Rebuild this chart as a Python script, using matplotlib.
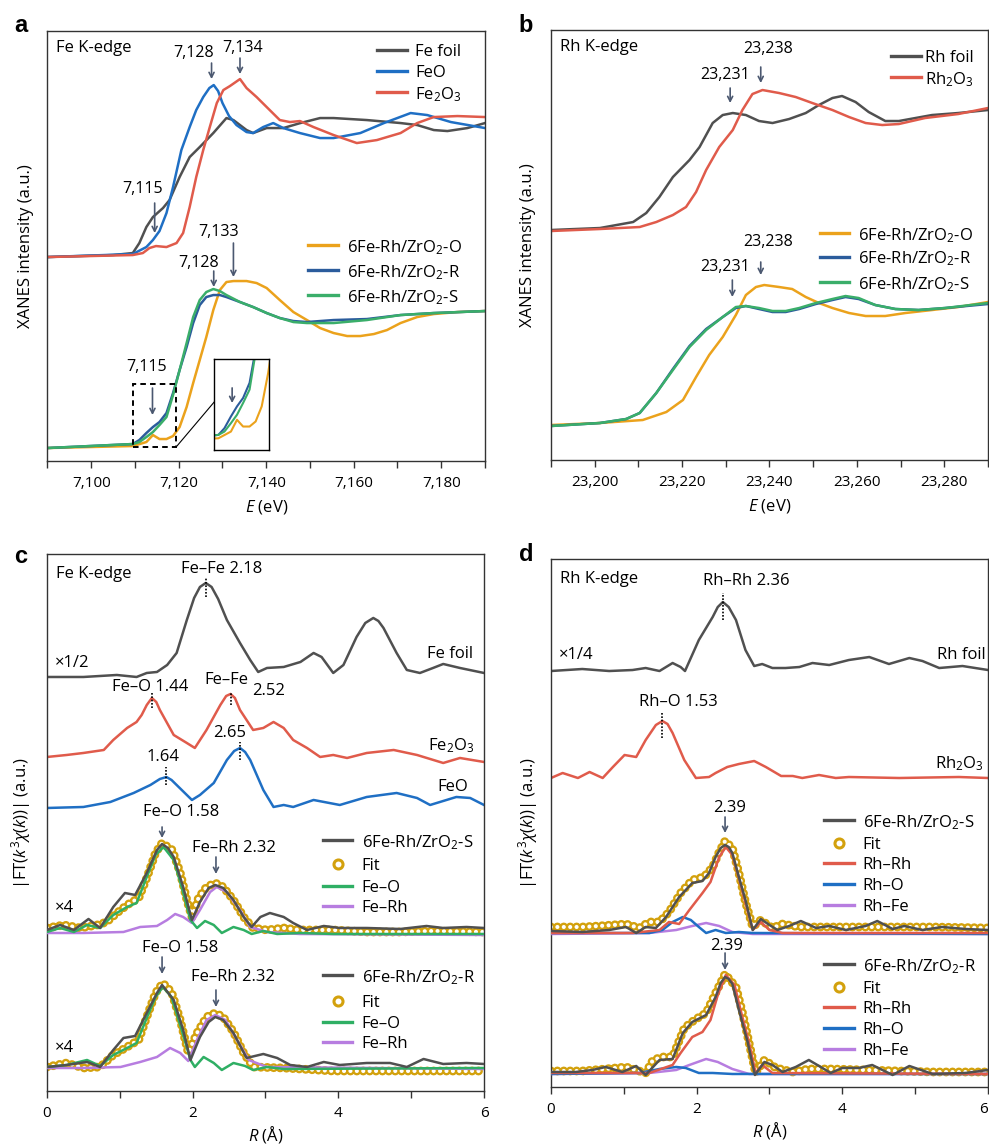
import matplotlib
matplotlib.use('Agg')
import matplotlib.pyplot as plt
from matplotlib.ticker import MultipleLocator, FuncFormatter
from matplotlib.patches import Rectangle

plt.rcParams['font.family'] = ['Open Sans', 'DejaVu Sans']
plt.rcParams['mathtext.fontset'] = 'custom'
plt.rcParams['mathtext.rm'] = 'Open Sans'
plt.rcParams['mathtext.it'] = 'Open Sans:italic'
plt.rcParams['mathtext.bf'] = 'Open Sans:bold'
plt.rcParams['lines.scale_dashes'] = False
plt.rcParams['axes.edgecolor'] = '#333333'

GRAY = '#505050'
BLUE = '#1f6fc4'
RED = '#e05b4b'
ORANGE = '#eba21c'
DBLUE = '#2b5c9c'
GREEN = '#3aae6a'
GOLD = '#d3a10d'
FEO_GREEN = '#2faf64'
PURPLE = '#b77de0'
ARROW = '#4b5870'

# ---------------- panel a: Fe K-edge XANES ----------------
fefoil_E = [7090, 7105, 7109.5, 7111.0, 7112.6, 7114.1, 7116.4, 7117.9, 7120.2, 7122.5, 7124.8, 7127.9, 7130.9,
            7132.5, 7135.5, 7137.0, 7140.1, 7143.9, 7147.8, 7152.3, 7155.4, 7163.0, 7170.7, 7174.5, 7178.3, 7181.4,
            7186.0, 7190]
fefoil_I = [2.04, 2.06, 2.08, 2.18, 2.34, 2.44, 2.53, 2.61, 2.84, 3.04, 3.14, 3.28, 3.43, 3.41, 3.31, 3.28, 3.33,
            3.33, 3.38, 3.43, 3.43, 3.41, 3.38, 3.36, 3.31, 3.30, 3.33, 3.38]
feo_E = [7090, 7109.5, 7112.6, 7114.1, 7115.6, 7117.2, 7118.7, 7120.6, 7122.5, 7124.0, 7125.6, 7127.0, 7128.0,
         7129.0, 7130.0, 7131.5, 7133.2, 7135.5, 7137.0, 7139.3, 7141.6, 7143.9, 7147.7, 7152.3, 7155.4, 7161.5,
         7166.9, 7173.0, 7176.8, 7182.2, 7190]
feo_I = [2.04, 2.07, 2.14, 2.21, 2.30, 2.48, 2.74, 3.11, 3.34, 3.51, 3.64, 3.73, 3.76, 3.70, 3.58, 3.45, 3.36,
         3.29, 3.28, 3.34, 3.38, 3.33, 3.28, 3.23, 3.23, 3.28, 3.38, 3.48, 3.46, 3.39, 3.33]
fe2o3_E = [7090, 7109.5, 7111.8, 7113.3, 7114.8, 7117.2, 7119.5, 7121.0, 7122.5, 7124.0, 7125.6, 7127.1, 7128.7,
           7130.2, 7131.7, 7134.0, 7135.5, 7137.8, 7140.1, 7143.1, 7145.4, 7147.7, 7150.8, 7155.4, 7160.7, 7165.3,
           7170.7, 7174.5, 7178.3, 7183.7, 7190]
fe2o3_I = [2.04, 2.06, 2.08, 2.13, 2.15, 2.14, 2.18, 2.28, 2.54, 2.84, 3.11, 3.34, 3.58, 3.71, 3.75, 3.82, 3.73,
           3.64, 3.54, 3.41, 3.39, 3.40, 3.34, 3.26, 3.18, 3.21, 3.28, 3.38, 3.44, 3.45, 3.44]
cat_O_E = [7090, 7109.5, 7112.6, 7114.1, 7115.6, 7117.2, 7118.7, 7120.2, 7121.8, 7123.3, 7124.8, 7126.3, 7127.9,
           7129.4, 7130.9, 7132.5, 7135.5, 7137.8, 7140.1, 7143.1, 7146.2, 7149.3, 7152.3, 7155.4, 7158.5, 7161.5,
           7164.6, 7167.6, 7170.7, 7174.5, 7178.3, 7183.7, 7190]
cat_O_I = [0.13, 0.15, 0.19, 0.26, 0.22, 0.22, 0.25, 0.34, 0.54, 0.78, 1.01, 1.24, 1.51, 1.71, 1.79, 1.80, 1.80,
           1.78, 1.73, 1.61, 1.49, 1.41, 1.33, 1.28, 1.25, 1.25, 1.27, 1.31, 1.38, 1.44, 1.47, 1.49, 1.50]
cat_E = [7090, 7109.5, 7111.0, 7112.6, 7114.1, 7115.6, 7117.2, 7118.7, 7120.2, 7121.8, 7123.3, 7124.8, 7126.3,
         7127.9, 7129.4, 7130.9, 7134.0, 7137.0, 7140.1, 7143.1, 7146.2, 7149.3, 7152.3, 7155.4, 7163.0, 7170.7,
         7178.3, 7190]
cat_R_I = [0.13, 0.17, 0.21, 0.28, 0.34, 0.39, 0.48, 0.68, 0.91, 1.14, 1.38, 1.56, 1.64, 1.66, 1.66, 1.64, 1.59,
           1.54, 1.48, 1.43, 1.40, 1.39, 1.40, 1.41, 1.42, 1.46, 1.48, 1.50]
cat_S_I = [0.13, 0.17, 0.19, 0.24, 0.29, 0.36, 0.44, 0.66, 0.91, 1.18, 1.44, 1.61, 1.69, 1.72, 1.70, 1.66, 1.59,
           1.54, 1.48, 1.43, 1.39, 1.38, 1.38, 1.38, 1.41, 1.46, 1.48, 1.50]

# ---------------- panel b: Rh K-edge XANES ----------------
rhfoil_E = [23190, 23201.2, 23208.8, 23211.8, 23214.8, 23217.9, 23221.7, 23224.0, 23227.0, 23229.3, 23231.6,
            23234.6, 23237.6, 23240.7, 23244.5, 23248.3, 23251.3, 23254.4, 23256.6, 23259.7, 23262.7, 23266.5,
            23269.6, 23277.2, 23283.2, 23290]
rhfoil_I = [2.30, 2.32, 2.38, 2.47, 2.63, 2.83, 3.00, 3.13, 3.37, 3.45, 3.47, 3.45, 3.39, 3.37, 3.41, 3.47, 3.55,
            3.62, 3.64, 3.58, 3.48, 3.39, 3.39, 3.45, 3.47, 3.50]
rh2o3_E = [23190, 23201.2, 23210.3, 23214.1, 23217.9, 23220.9, 23223.2, 23225.5, 23228.5, 23231.6, 23233.8,
           23236.1, 23238.4, 23242.2, 23246.0, 23249.8, 23254.4, 23258.2, 23262.0, 23265.8, 23269.6, 23275.6,
           23283.2, 23290]
rh2o3_I = [2.29, 2.31, 2.33, 2.38, 2.45, 2.53, 2.68, 2.90, 3.13, 3.30, 3.50, 3.66, 3.70, 3.67, 3.63, 3.57, 3.50,
           3.43, 3.37, 3.35, 3.36, 3.42, 3.46, 3.52]
rhcat_O_E = [23190, 23201.2, 23211.0, 23216.4, 23220.2, 23223.2, 23226.2, 23229.3, 23232.3, 23234.6, 23236.9,
             23238.8, 23242.2, 23245.2, 23248.3, 23251.3, 23254.4, 23258.2, 23262.0, 23266.5, 23271.1, 23277.2,
             23283.2, 23290]
rhcat_O_I = [0.35, 0.37, 0.40, 0.48, 0.60, 0.83, 1.05, 1.23, 1.45, 1.65, 1.73, 1.75, 1.73, 1.71, 1.63, 1.57, 1.52,
             1.47, 1.44, 1.44, 1.47, 1.50, 1.53, 1.58]
rhcat_E = [23190, 23201.2, 23207.2, 23210.3, 23214.1, 23217.9, 23221.7, 23225.5, 23229.3, 23232.3, 23234.6,
           23237.6, 23240.7, 23243.7, 23246.8, 23250.6, 23254.4, 23257.4, 23260.4, 23264.2, 23268.8, 23274.1,
           23280.2, 23290]
rhcat_R_I = [0.34, 0.37, 0.41, 0.47, 0.67, 0.91, 1.14, 1.31, 1.43, 1.52, 1.54, 1.51, 1.48, 1.48, 1.51, 1.56, 1.60,
             1.63, 1.61, 1.55, 1.51, 1.50, 1.52, 1.56]
rhcat_S_I = [0.34, 0.37, 0.41, 0.47, 0.67, 0.90, 1.13, 1.30, 1.43, 1.53, 1.54, 1.52, 1.49, 1.49, 1.52, 1.57, 1.61,
             1.64, 1.62, 1.55, 1.51, 1.50, 1.52, 1.57]

# ---------------- panel c: Fe K-edge EXAFS ----------------
c_foil_R = [0, 0.50, 0.73, 0.96, 1.23, 1.37, 1.51, 1.65, 1.78, 1.92, 2.02, 2.10, 2.18, 2.26, 2.35, 2.47, 2.65, 2.79,
            2.90, 3.02, 3.25, 3.48, 3.66, 3.77, 3.93, 4.07, 4.25, 4.37, 4.48, 4.55, 4.62, 4.80, 4.94, 5.12, 5.30,
            5.44, 5.67, 6.0]
c_foil_I = [4.14, 4.14, 4.15, 4.16, 4.14, 4.18, 4.19, 4.26, 4.38, 4.71, 4.93, 5.04, 5.08, 5.04, 4.92, 4.71, 4.48,
            4.31, 4.19, 4.23, 4.24, 4.29, 4.38, 4.34, 4.18, 4.26, 4.54, 4.68, 4.73, 4.70, 4.63, 4.38, 4.21, 4.18,
            4.23, 4.27, 4.23, 4.18]
c_fe2o3_R = [0, 0.27, 0.50, 0.78, 0.91, 1.10, 1.23, 1.30, 1.37, 1.44, 1.50, 1.55, 1.74, 1.92, 2.03, 2.19, 2.38,
             2.46, 2.52, 2.58, 2.65, 2.83, 2.97, 3.11, 3.25, 3.38, 3.57, 3.75, 3.93, 4.12, 4.39, 4.76, 5.08, 5.44,
             5.67, 6.0]
c_fe2o3_I = [3.34, 3.36, 3.38, 3.41, 3.51, 3.63, 3.69, 3.76, 3.86, 3.93, 3.89, 3.81, 3.56, 3.48, 3.43, 3.61, 3.86,
             3.95, 3.97, 3.93, 3.81, 3.61, 3.63, 3.69, 3.63, 3.51, 3.43, 3.34, 3.36, 3.33, 3.38, 3.41, 3.36, 3.28,
             3.33, 3.29]
c_feo_R = [0, 0.50, 0.87, 1.19, 1.42, 1.55, 1.64, 1.71, 1.78, 1.99, 2.10, 2.29, 2.47, 2.57, 2.65, 2.72, 2.79, 2.97,
           3.11, 3.25, 3.38, 3.66, 4.02, 4.39, 4.80, 5.08, 5.26, 5.62, 5.81, 6.0]
c_feo_I = [2.83, 2.84, 2.89, 2.98, 3.06, 3.12, 3.14, 3.11, 3.06, 2.91, 2.96, 3.08, 3.31, 3.40, 3.43, 3.39, 3.31,
           3.01, 2.84, 2.86, 2.84, 2.91, 2.86, 2.94, 2.98, 2.93, 2.86, 2.94, 2.93, 2.86]
c_S_R = [0, 0.18, 0.37, 0.57, 0.73, 0.91, 1.07, 1.21, 1.37, 1.51, 1.58, 1.66, 1.74, 1.87, 1.99, 2.10, 2.22, 2.31,
         2.42, 2.56, 2.70, 2.81, 2.93, 3.06, 3.25, 3.38, 3.57, 3.80, 4.02, 4.39, 4.85, 5.21, 5.44, 5.76, 6.0]
c_S_I = [1.61, 1.66, 1.61, 1.72, 1.63, 1.84, 1.98, 1.96, 2.18, 2.41, 2.47, 2.43, 2.34, 2.04, 1.71, 1.89, 2.03, 2.06,
         2.03, 1.91, 1.74, 1.64, 1.74, 1.78, 1.74, 1.68, 1.61, 1.65, 1.63, 1.63, 1.62, 1.65, 1.63, 1.64, 1.63]
c_S_fit_R = [0, 0.23, 0.46, 0.69, 0.82, 0.96, 1.10, 1.26, 1.37, 1.49, 1.58, 1.72, 1.83, 1.92, 1.99, 2.08, 2.19, 2.31,
             2.42, 2.56, 2.70, 2.83, 3.02, 3.25, 3.47, 3.93, 4.39, 4.85, 5.30, 6.0]
c_S_fit_I = [1.63, 1.66, 1.63, 1.66, 1.69, 1.78, 1.86, 1.93, 2.13, 2.38, 2.48, 2.41, 2.18, 1.91, 1.74, 1.93, 2.04,
             2.08, 2.04, 1.91, 1.74, 1.63, 1.61, 1.63, 1.61, 1.61, 1.59, 1.59, 1.60, 1.59]
c_S_feo_R = [0, 0.18, 0.37, 0.55, 0.73, 0.91, 1.10, 1.23, 1.37, 1.49, 1.60, 1.74, 1.85, 1.97, 2.06, 2.17, 2.29, 2.40,
             2.56, 2.70, 2.81, 2.97, 3.16, 3.47, 3.93, 6.0]
c_S_feo_I = [1.59, 1.63, 1.59, 1.66, 1.63, 1.76, 1.84, 1.88, 2.14, 2.36, 2.44, 2.31, 2.04, 1.71, 1.63, 1.70, 1.66,
             1.58, 1.64, 1.61, 1.57, 1.60, 1.57, 1.58, 1.57, 1.57]
c_S_ferh_R = [0, 0.50, 1.05, 1.28, 1.51, 1.65, 1.76, 1.87, 1.99, 2.10, 2.24, 2.33, 2.47, 2.65, 2.79, 3.02, 3.47, 6.0]
c_S_ferh_I = [1.58, 1.58, 1.59, 1.64, 1.65, 1.71, 1.77, 1.74, 1.68, 1.81, 1.99, 2.04, 1.99, 1.81, 1.64, 1.59, 1.57,
              1.56]
c_R_R = [0, 0.27, 0.55, 0.73, 0.91, 1.05, 1.21, 1.37, 1.51, 1.58, 1.74, 1.87, 1.97, 2.10, 2.22, 2.31, 2.42, 2.56,
         2.74, 2.97, 3.16, 3.34, 3.57, 3.80, 4.02, 4.39, 4.71, 4.94, 5.17, 5.44, 5.76, 6.0]
c_R_I = [0.24, 0.26, 0.29, 0.24, 0.41, 0.53, 0.55, 0.78, 0.98, 1.06, 0.91, 0.61, 0.31, 0.54, 0.69, 0.74, 0.71, 0.58,
         0.33, 0.37, 0.33, 0.26, 0.24, 0.29, 0.26, 0.28, 0.28, 0.24, 0.32, 0.27, 0.28, 0.27]
c_R_fit_R = [0, 0.27, 0.50, 0.73, 0.91, 1.10, 1.26, 1.37, 1.49, 1.59, 1.71, 1.83, 1.94, 2.06, 2.19, 2.31, 2.42, 2.56,
             2.70, 2.83, 3.25, 3.93, 6.0]
c_R_fit_I = [0.24, 0.28, 0.23, 0.24, 0.36, 0.44, 0.51, 0.74, 0.98, 1.08, 0.99, 0.71, 0.38, 0.58, 0.74, 0.78, 0.74,
             0.59, 0.38, 0.24, 0.23, 0.20, 0.20]
c_R_feo_R = [0, 0.27, 0.55, 0.73, 0.91, 1.10, 1.23, 1.37, 1.49, 1.59, 1.71, 1.85, 1.97, 2.03, 2.15, 2.29, 2.40, 2.56,
             2.72, 2.83, 3.02, 3.25, 6.0]
c_R_feo_I = [0.24, 0.26, 0.31, 0.25, 0.36, 0.43, 0.48, 0.73, 0.94, 1.04, 0.94, 0.61, 0.31, 0.24, 0.34, 0.28, 0.21,
             0.28, 0.25, 0.21, 0.24, 0.22, 0.23]
c_R_ferh_R = [0, 0.50, 1.01, 1.28, 1.51, 1.69, 1.83, 1.94, 2.06, 2.19, 2.31, 2.45, 2.61, 2.77, 3.02, 6.0]
c_R_ferh_I = [0.23, 0.23, 0.24, 0.29, 0.34, 0.43, 0.38, 0.30, 0.51, 0.71, 0.76, 0.71, 0.51, 0.31, 0.24, 0.22]

# ---------------- panel d: Rh K-edge EXAFS ----------------
d_foil_R = [0, 0.43, 0.80, 1.12, 1.30, 1.49, 1.67, 1.78, 1.84, 2.03, 2.22, 2.29, 2.36, 2.44, 2.54, 2.67, 2.79, 2.90,
            3.04, 3.22, 3.41, 3.59, 3.82, 4.09, 4.37, 4.64, 4.92, 5.10, 5.33, 5.65, 6.0]
d_foil_I = [4.16, 4.18, 4.16, 4.17, 4.19, 4.16, 4.24, 4.20, 4.16, 4.47, 4.70, 4.80, 4.85, 4.80, 4.67, 4.37, 4.21,
            4.23, 4.19, 4.19, 4.20, 4.24, 4.22, 4.27, 4.30, 4.23, 4.29, 4.26, 4.19, 4.21, 4.17]
d_rh2o3_R = [0, 0.16, 0.37, 0.53, 0.71, 0.85, 1.01, 1.17, 1.30, 1.44, 1.53, 1.60, 1.67, 1.83, 1.99, 2.17, 2.26, 2.42,
             2.58, 2.79, 2.95, 3.16, 3.32, 3.45, 3.68, 3.91, 4.09, 4.78, 5.60, 6.0]
d_rh2o3_I = [3.09, 3.14, 3.09, 3.15, 3.09, 3.20, 3.32, 3.30, 3.47, 3.62, 3.66, 3.63, 3.54, 3.27, 3.09, 3.10, 3.14,
             3.20, 3.23, 3.26, 3.20, 3.11, 3.11, 3.09, 3.12, 3.09, 3.10, 3.09, 3.10, 3.09]
d_S_R = [0, 0.43, 0.80, 1.03, 1.17, 1.30, 1.44, 1.58, 1.76, 1.94, 2.08, 2.17, 2.26, 2.33, 2.39, 2.44, 2.49, 2.58,
         2.67, 2.77, 2.88, 3.00, 3.11, 3.27, 3.43, 3.64, 3.82, 4.05, 4.32, 4.48, 4.69, 4.85, 5.10, 5.37, 5.69, 6.0]
d_S_I = [1.56, 1.55, 1.57, 1.60, 1.54, 1.60, 1.59, 1.70, 1.90, 2.04, 2.06, 2.14, 2.30, 2.39, 2.42, 2.40, 2.34, 2.10,
         1.87, 1.57, 1.68, 1.62, 1.57, 1.61, 1.66, 1.59, 1.61, 1.57, 1.61, 1.66, 1.58, 1.61, 1.57, 1.60, 1.58, 1.57]
d_S_fit_R = [0, 0.43, 0.66, 1.03, 1.21, 1.35, 1.49, 1.62, 1.78, 1.94, 2.10, 2.22, 2.31, 2.39, 2.49, 2.58, 2.67, 2.77,
             2.88, 3.04, 3.18, 3.41, 3.86, 4.32, 5.24, 6.0]
d_S_fit_I = [1.60, 1.60, 1.61, 1.63, 1.59, 1.65, 1.65, 1.75, 1.94, 2.07, 2.10, 2.20, 2.35, 2.46, 2.39, 2.14, 1.85,
             1.60, 1.67, 1.59, 1.63, 1.60, 1.60, 1.60, 1.60, 1.59]
d_S_rhrh_R = [0, 1.12, 1.49, 1.62, 1.76, 1.90, 2.08, 2.19, 2.31, 2.40, 2.49, 2.58, 2.67, 2.77, 2.88, 3.00, 3.18, 6.0]
d_S_rhrh_I = [1.54, 1.54, 1.57, 1.65, 1.63, 1.77, 1.94, 2.05, 2.30, 2.40, 2.32, 2.09, 1.84, 1.57, 1.65, 1.57, 1.54,
              1.54]
d_S_rho_R = [0, 1.35, 1.53, 1.67, 1.81, 1.92, 2.03, 2.13, 2.26, 2.40, 2.58, 2.77, 6.0]
d_S_rho_I = [1.54, 1.54, 1.57, 1.65, 1.70, 1.67, 1.60, 1.54, 1.57, 1.54, 1.55, 1.54, 1.53]
d_S_rhfe_R = [0, 1.35, 1.72, 1.94, 2.13, 2.31, 2.49, 2.77, 6.0]
d_S_rhfe_I = [1.53, 1.54, 1.57, 1.61, 1.64, 1.61, 1.55, 1.53, 1.53]
d_R_R = [0, 0.34, 0.57, 0.75, 0.98, 1.17, 1.30, 1.49, 1.67, 1.81, 1.94, 2.13, 2.26, 2.33, 2.39, 2.44, 2.49, 2.58,
         2.70, 2.80, 2.93, 3.04, 3.18, 3.36, 3.54, 3.68, 3.84, 4.00, 4.23, 4.41, 4.69, 4.92, 5.24, 5.69, 6.0]
d_R_I = [0.15, 0.15, 0.17, 0.20, 0.15, 0.21, 0.12, 0.27, 0.28, 0.54, 0.65, 0.72, 0.90, 1.04, 1.10, 1.08, 1.03, 0.77,
         0.45, 0.12, 0.25, 0.22, 0.15, 0.20, 0.27, 0.21, 0.14, 0.19, 0.19, 0.22, 0.12, 0.21, 0.13, 0.14, 0.17]
d_R_fit_R = [0, 0.43, 0.75, 1.03, 1.30, 1.40, 1.53, 1.67, 1.83, 1.97, 2.13, 2.26, 2.39, 2.54, 2.63, 2.72, 2.81, 2.93,
             3.09, 3.32, 3.54, 3.86, 4.32, 5.24, 6.0]
d_R_fit_I = [0.16, 0.16, 0.18, 0.20, 0.14, 0.27, 0.30, 0.30, 0.59, 0.67, 0.74, 0.94, 1.13, 1.00, 0.74, 0.44, 0.14,
             0.27, 0.19, 0.15, 0.18, 0.18, 0.17, 0.15, 0.15]
d_R_rhrh_R = [0, 1.35, 1.67, 1.78, 1.94, 2.08, 2.19, 2.29, 2.40, 2.52, 2.61, 2.72, 2.81, 2.90, 3.04, 6.0]
d_R_rhrh_I = [0.14, 0.14, 0.22, 0.34, 0.50, 0.55, 0.67, 0.92, 1.12, 1.02, 0.75, 0.44, 0.14, 0.22, 0.14, 0.13]
d_R_rho_R = [0, 1.21, 1.49, 1.72, 1.85, 2.03, 2.22, 2.49, 6.0]
d_R_rho_I = [0.13, 0.14, 0.18, 0.20, 0.19, 0.14, 0.14, 0.13, 0.13]
d_R_rhfe_R = [0, 1.35, 1.72, 1.90, 2.13, 2.29, 2.49, 2.72, 6.0]
d_R_rhfe_I = [0.13, 0.14, 0.17, 0.22, 0.28, 0.25, 0.18, 0.13, 0.13]

LW = 1.8
FS = 12


def style_axis(ax, major, minor, xlim, ylim):
    ax.set_xlim(*xlim)
    ax.set_ylim(*ylim)
    ax.set_yticks([])
    ax.xaxis.set_major_locator(MultipleLocator(major))
    ax.xaxis.set_minor_locator(MultipleLocator(minor))
    ax.tick_params(axis='x', which='both', direction='out', length=5, width=1, color='#333333')
    ax.tick_params(axis='x', which='major', labelsize=11, pad=6)
    for s in ax.spines.values():
        s.set_linewidth(1.0)


def arrow(ax, x, y0, y1):
    ax.annotate('', xy=(x, y1), xytext=(x, y0),
                arrowprops=dict(arrowstyle='->,head_length=0.35,head_width=0.18', color=ARROW, lw=1.2,
                                shrinkA=0, shrinkB=0))


def mark(ax, x, y0, y1):
    ax.vlines(x, y0, y1, colors='k', linestyles=(0, (1.2, 1.2)), lw=1.2)


def fit(ax, x, y):
    # open-circle look: gold dots with a white core, same dash rhythm
    ax.plot(x, y, color=GOLD, lw=6.4, ls=(0, (0.01, 4.6)), dash_capstyle='round', zorder=2)
    ax.plot(x, y, color='white', lw=3.0, ls=(0, (0.01, 4.6)), dash_capstyle='round', zorder=2.1)


def key(ax, x0, x1, xt, rows):
    for y, label, color, kind in rows:
        if kind == 'o':
            ax.plot([(x0 + x1) / 2], [y], 'o', ms=6.5, mfc='white', mec=GOLD, mew=2.2,
                    transform=ax.transAxes, clip_on=False)
        else:
            ax.plot([x0, x1], [y, y], color=color, lw=2.4, transform=ax.transAxes, clip_on=False)
        ax.text(xt, y, label, transform=ax.transAxes, fontsize=FS, va='center_baseline', ha='left')


fig = plt.figure(figsize=(9.89, 11.46), dpi=100)
ax_a = fig.add_axes([0.0480, 0.5977, 0.4424, 0.3752])
ax_b = fig.add_axes([0.5571, 0.5986, 0.4419, 0.3752])
ax_c = fig.add_axes([0.0475, 0.0480, 0.4419, 0.4686])
ax_d = fig.add_axes([0.5571, 0.0515, 0.4419, 0.4607])

comma = FuncFormatter(lambda v, p: f'{v:,.0f}')

# ---- a ----
ax = ax_a
ax.plot(fefoil_E, fefoil_I, color=GRAY, lw=LW)
ax.plot(feo_E, feo_I, color=BLUE, lw=LW)
ax.plot(fe2o3_E, fe2o3_I, color=RED, lw=LW)
ax.plot(cat_O_E, cat_O_I, color=ORANGE, lw=LW)
ax.plot(cat_E, cat_R_I, color=DBLUE, lw=LW)
ax.plot(cat_E, cat_S_I, color=GREEN, lw=LW)
style_axis(ax, 20, 10, (7090, 7190), (0, 4.30))
ax.xaxis.set_major_formatter(comma)
ax.set_xlabel('$E$ (eV)', fontsize=FS, labelpad=5)
ax.set_ylabel('XANES intensity (a.u.)', fontsize=FS, labelpad=10)
ax.text(0.019, 0.96, 'Fe K-edge', transform=ax.transAxes, fontsize=FS, va='center')
ax.text(7123.5, 4.08, '7,128', fontsize=11.5, ha='center', va='center')
arrow(ax, 7127.5, 3.98, 3.82)
ax.text(7134.7, 4.13, '7,134', fontsize=11.5, ha='center', va='center')
arrow(ax, 7134, 4.03, 3.87)
ax.text(7111.8, 2.72, '7,115', fontsize=11.5, ha='center', va='center')
arrow(ax, 7114.5, 2.58, 2.28)
ax.text(7129.2, 2.29, '7,133', fontsize=11.5, ha='center', va='center')
arrow(ax, 7132.5, 2.18, 1.84)
ax.text(7124.6, 1.98, '7,128', fontsize=11.5, ha='center', va='center')
arrow(ax, 7128, 1.90, 1.74)
ax.text(7112.6, 0.94, '7,115', fontsize=11.5, ha='center', va='center')
arrow(ax, 7114, 0.73, 0.46)
ax.add_patch(Rectangle((7109.6, 0.14), 9.8, 0.63, fill=False, ls=(0, (4, 3)), lw=1.4, ec='k', zorder=5))
ax.plot([7119.4, 7128.1], [0.14, 0.59], color='k', lw=0.8, clip_on=False)
key(ax, 0.753, 0.822, 0.840, [(0.956, 'Fe foil', GRAY, '-'), (0.907, 'FeO', BLUE, '-'),
                              (0.858, 'Fe$_2$O$_3$', RED, '-')])
key(ax, 0.595, 0.664, 0.685, [(0.502, '6Fe-Rh/ZrO$_2$-O', ORANGE, '-'), (0.444, '6Fe-Rh/ZrO$_2$-R', DBLUE, '-'),
                              (0.386, '6Fe-Rh/ZrO$_2$-S', GREEN, '-')])

# inset of the pre-edge region
ins = fig.add_axes([0.2167, 0.6073, 0.0553, 0.0791])
ins.plot(cat_O_E, cat_O_I, color=ORANGE, lw=1.5)
ins.plot(cat_E, cat_R_I, color=DBLUE, lw=1.5)
ins.plot(cat_E, cat_S_I, color=GREEN, lw=1.5)
ins.set_xlim(7108.5, 7122)
ins.set_ylim(0.08, 0.62)
ins.set_xticks([])
ins.set_yticks([])
for s in ins.spines.values():
    s.set_linewidth(1.0)
    s.set_color('k')
arrow(ins, 7112.9, 0.45, 0.36)

# ---- b ----
ax = ax_b
ax.plot(rhfoil_E, rhfoil_I, color=GRAY, lw=LW)
ax.plot(rh2o3_E, rh2o3_I, color=RED, lw=LW)
ax.plot(rhcat_O_E, rhcat_O_I, color=ORANGE, lw=LW)
ax.plot(rhcat_E, rhcat_R_I, color=DBLUE, lw=LW)
ax.plot(rhcat_E, rhcat_S_I, color=GREEN, lw=LW)
style_axis(ax, 20, 10, (23190, 23290), (0, 4.30))
ax.xaxis.set_major_formatter(comma)
ax.set_xlabel('$E$ (eV)', fontsize=FS, labelpad=5)
ax.set_ylabel('XANES intensity (a.u.)', fontsize=FS, labelpad=11)
ax.text(0.021, 0.96, 'Rh K-edge', transform=ax.transAxes, fontsize=FS, va='center')
ax.text(23239.8, 4.11, '23,238', fontsize=11.5, ha='center', va='center')
arrow(ax, 23238, 3.93, 3.77)
ax.text(23229.9, 3.85, '23,231', fontsize=11.5, ha='center', va='center')
arrow(ax, 23231, 3.72, 3.57)
ax.text(23239.8, 2.18, '23,238', fontsize=11.5, ha='center', va='center')
arrow(ax, 23238, 1.98, 1.85)
ax.text(23229.9, 1.93, '23,231', fontsize=11.5, ha='center', va='center')
arrow(ax, 23231.5, 1.80, 1.63)
key(ax, 0.777, 0.846, 0.856, [(0.940, 'Rh foil', GRAY, '-'), (0.890, 'Rh$_2$O$_3$', RED, '-')])
key(ax, 0.616, 0.682, 0.702, [(0.527, '6Fe-Rh/ZrO$_2$-O', ORANGE, '-'), (0.473, '6Fe-Rh/ZrO$_2$-R', DBLUE, '-'),
                              (0.413, '6Fe-Rh/ZrO$_2$-S', GREEN, '-')])

# ---- c ----
ax = ax_c
ax.plot(c_foil_R, c_foil_I, color=GRAY, lw=LW)
ax.plot(c_fe2o3_R, c_fe2o3_I, color=RED, lw=LW)
ax.plot(c_feo_R, c_feo_I, color=BLUE, lw=LW)
fit(ax, c_S_fit_R, c_S_fit_I)
ax.plot(c_S_ferh_R, c_S_ferh_I, color=PURPLE, lw=LW, zorder=3)
ax.plot(c_S_feo_R, c_S_feo_I, color=FEO_GREEN, lw=LW, zorder=3)
ax.plot(c_S_R, c_S_I, color=GRAY, lw=LW, zorder=4)
fit(ax, c_R_fit_R, c_R_fit_I)
ax.plot(c_R_ferh_R, c_R_ferh_I, color=PURPLE, lw=LW, zorder=3)
ax.plot(c_R_feo_R, c_R_feo_I, color=FEO_GREEN, lw=LW, zorder=3)
ax.plot(c_R_R, c_R_I, color=GRAY, lw=LW, zorder=4)
style_axis(ax, 2, 1, (0, 6), (0, 5.37))
ax.set_xlabel('$R$ (Å)', fontsize=FS, labelpad=2)
ax.set_ylabel('|FT($k^3\\chi(k)$)| (a.u.)', fontsize=FS, labelpad=10)
ax.text(0.021, 0.963, 'Fe K-edge', transform=ax.transAxes, fontsize=FS, va='center')
ax.text(2.40, 5.22, 'Fe–Fe 2.18', fontsize=FS, ha='center', va='center')
mark(ax, 2.18, 4.94, 5.13)
ax.text(0.11, 4.28, '×1/2', fontsize=FS, ha='left', va='center')
ax.text(5.85, 4.37, 'Fe foil', fontsize=FS, ha='right', va='center')
ax.text(1.42, 4.04, 'Fe–O 1.44', fontsize=FS, ha='center', va='center')
mark(ax, 1.44, 3.83, 3.98)
ax.text(2.16, 4.11, 'Fe–Fe', fontsize=FS, ha='left', va='center')
ax.text(2.82, 4.00, '2.52', fontsize=FS, ha='left', va='center')
mark(ax, 2.52, 3.86, 3.98)
ax.text(5.86, 3.45, 'Fe$_2$O$_3$', fontsize=FS, ha='right', va='center')
ax.text(2.51, 3.58, '2.65', fontsize=FS, ha='center', va='center')
mark(ax, 2.65, 3.31, 3.49)
ax.text(1.59, 3.34, '1.64', fontsize=FS, ha='center', va='center')
mark(ax, 1.64, 3.06, 3.24)
ax.text(5.78, 3.04, 'FeO', fontsize=FS, ha='right', va='center')
ax.text(1.84, 2.79, 'Fe–O 1.58', fontsize=FS, ha='center', va='center')
arrow(ax, 1.58, 2.64, 2.53)
ax.text(2.56, 2.43, 'Fe–Rh 2.32', fontsize=FS, ha='center', va='center')
arrow(ax, 2.32, 2.34, 2.17)
ax.text(0.11, 1.83, '×4', fontsize=FS, ha='left', va='center')
ax.text(1.83, 1.43, 'Fe–O 1.58', fontsize=FS, ha='center', va='center')
arrow(ax, 1.58, 1.34, 1.17)
ax.text(2.55, 1.14, 'Fe–Rh 2.32', fontsize=FS, ha='center', va='center')
arrow(ax, 2.32, 1.01, 0.84)
ax.text(0.11, 0.43, '×4', fontsize=FS, ha='left', va='center')
key(ax, 0.632, 0.699, 0.720, [(0.467, '6Fe-Rh/ZrO$_2$-S', GRAY, '-'), (0.422, 'Fit', GOLD, 'o'),
                              (0.382, 'Fe–O', FEO_GREEN, '-'), (0.344, 'Fe–Rh', PURPLE, '-')])
key(ax, 0.632, 0.699, 0.720, [(0.216, '6Fe-Rh/ZrO$_2$-R', GRAY, '-'), (0.168, 'Fit', GOLD, 'o'),
                              (0.129, 'Fe–O', FEO_GREEN, '-'), (0.091, 'Fe–Rh', PURPLE, '-')])

# ---- d ----
ax = ax_d
ax.plot(d_foil_R, d_foil_I, color=GRAY, lw=LW)
ax.plot(d_rh2o3_R, d_rh2o3_I, color=RED, lw=LW)
fit(ax, d_S_fit_R, d_S_fit_I)
ax.plot(d_S_rhfe_R, d_S_rhfe_I, color=PURPLE, lw=LW, zorder=3)
ax.plot(d_S_rho_R, d_S_rho_I, color=BLUE, lw=LW, zorder=3)
ax.plot(d_S_rhrh_R, d_S_rhrh_I, color=RED, lw=LW, zorder=3)
ax.plot(d_S_R, d_S_I, color=GRAY, lw=LW, zorder=4)
fit(ax, d_R_fit_R, d_R_fit_I)
ax.plot(d_R_rhfe_R, d_R_rhfe_I, color=PURPLE, lw=LW, zorder=3)
ax.plot(d_R_rho_R, d_R_rho_I, color=BLUE, lw=LW, zorder=3)
ax.plot(d_R_rhrh_R, d_R_rhrh_I, color=RED, lw=LW, zorder=3)
ax.plot(d_R_R, d_R_I, color=GRAY, lw=LW, zorder=4)
style_axis(ax, 2, 1, (0, 6), (0, 5.28))
ax.set_xticks([0, 2, 4, 6])
ax.get_xticklabels()[-1].set_horizontalalignment('right')
ax.set_xlabel('$R$ (Å)', fontsize=FS, labelpad=2)
ax.set_ylabel('|FT($k^3\\chi(k)$)| (a.u.)', fontsize=FS, labelpad=8)
ax.text(0.021, 0.962, 'Rh K-edge', transform=ax.transAxes, fontsize=FS, va='center')
ax.text(2.68, 5.06, 'Rh–Rh 2.36', fontsize=FS, ha='center', va='center')
mark(ax, 2.36, 4.67, 4.94)
ax.text(0.11, 4.32, '×1/4', fontsize=FS, ha='left', va='center')
ax.text(5.97, 4.32, 'Rh foil', fontsize=FS, ha='right', va='center')
ax.text(1.75, 3.85, 'Rh–O 1.53', fontsize=FS, ha='center', va='center')
mark(ax, 1.53, 3.49, 3.75)
ax.text(5.94, 3.23, 'Rh$_2$O$_3$', fontsize=FS, ha='right', va='center')
ax.text(2.45, 2.79, '2.39', fontsize=FS, ha='center', va='center')
arrow(ax, 2.39, 2.70, 2.54)
ax.text(2.41, 1.41, '2.39', fontsize=FS, ha='center', va='center')
arrow(ax, 2.39, 1.34, 1.17)
key(ax, 0.625, 0.693, 0.713, [(0.506, '6Fe-Rh/ZrO$_2$-S', GRAY, '-'), (0.463, 'Fit', GOLD, 'o'),
                              (0.424, 'Rh–Rh', RED, '-'), (0.385, 'Rh–O', BLUE, '-'),
                              (0.345, 'Rh–Fe', PURPLE, '-')])
key(ax, 0.625, 0.693, 0.713, [(0.232, '6Fe-Rh/ZrO$_2$-R', GRAY, '-'), (0.190, 'Fit', GOLD, 'o'),
                              (0.151, 'Rh–Rh', RED, '-'), (0.111, 'Rh–O', BLUE, '-'),
                              (0.072, 'Rh–Fe', PURPLE, '-')])

# panel letters
for lbl, x, y in [('a', 20.7, 25), ('b', 526, 25), ('c', 20.7, 556.7), ('d', 526, 555)]:
    fig.text(x / 989, 1 - y / 1146, lbl, fontsize=17, fontweight='bold', family='Liberation Sans',
             ha='center', va='center')

fig.savefig('out.png', dpi=100)
